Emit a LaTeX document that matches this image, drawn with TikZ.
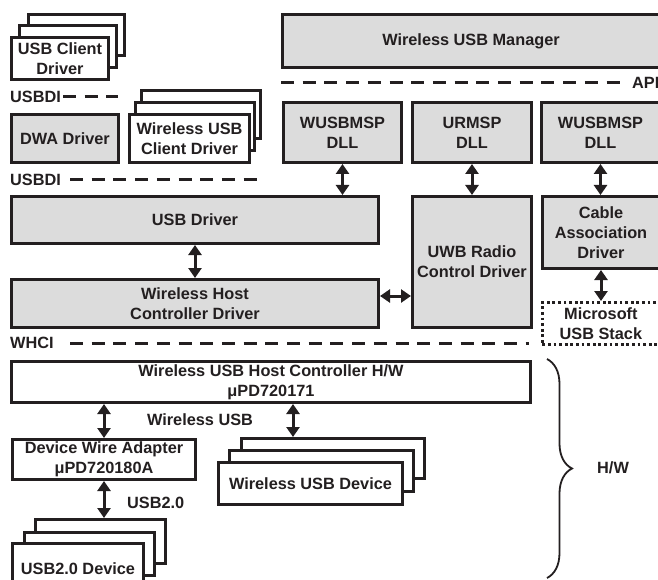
\documentclass[tikz,border=0pt]{standalone}
\usepackage{fontspec}
\setmainfont{Liberation Sans}
\usetikzlibrary{arrows.meta,decorations.pathreplacing,calc}
\definecolor{ink}{HTML}{231F20}
\definecolor{boxgray}{HTML}{DCDCDC}
\newcommand\bx[7]{\node[#6,anchor=north west,minimum width={(#4)-(#2)},minimum height={(#5)-(#3)}] (#1) at (#2,#3) {#7};}
\begin{document}
\begin{tikzpicture}[x=1pt,y=-1pt,
  font=\fontsize{16.3}{20}\selectfont\bfseries,
  base/.style={draw=ink,line width=3pt,inner sep=0pt,align=center,text=ink},
  gbox/.style={base,fill=boxgray},
  wbox/.style={base,fill=white},
  dotbox/.style={base,fill=white,line width=2.8pt,dash pattern=on 2.8pt off 2.8pt},
  dbl/.style={draw=ink,line width=3pt,{Triangle[width=13pt,length=10pt]}-{Triangle[width=13pt,length=10pt]}},
  dashline/.style={draw=ink,line width=3pt,dash pattern=on 13pt off 8.7pt},
  lbl/.style={text=ink,inner sep=0pt}]
\clip (0,0) rectangle (658,580);
\fill[white] (0,0) rectangle (658,580);

% left top stacks
\bx{ucd3}{27}{13}{123}{54}{wbox}{}
\bx{ucd2}{18}{24}{115}{66}{wbox}{}
\bx{ucd}{10}{36}{107}{78}{wbox}{USB Client\\Driver}
\bx{dwa}{10}{113}{117}{161}{gbox}{DWA Driver}
\bx{wcd3}{140}{89}{259}{137}{wbox}{}
\bx{wcd2}{134}{101}{253}{149}{wbox}{}
\bx{wcd}{128}{113}{248}{161}{wbox}{Wireless USB\\Client Driver}

% right top
\bx{mgr}{281}{13}{658}{66}{gbox}{Wireless USB Manager}
\bx{dll1}{282}{101}{400}{161}{gbox}{WUSBMSP\\DLL}
\bx{dll2}{411}{101}{530}{161}{gbox}{URMSP\\DLL}
\bx{dll3}{540}{101}{658}{161}{gbox}{WUSBMSP\\DLL}

% middle
\bx{usbd}{10}{195}{377}{242}{gbox}{USB Driver}
\bx{whcd}{10}{278}{377}{326}{gbox}{Wireless Host\\Controller Driver}
\bx{uwb}{411}{195}{530}{326}{gbox}{UWB Radio\\Control Driver}
\bx{cad}{541}{195}{658}{267}{gbox}{Cable\\Association\\Driver}
\bx{ms}{541}{301}{658}{343}{dotbox}{Microsoft\\USB Stack}

% hardware
\bx{hc}{10}{360}{529}{401}{wbox}{Wireless USB Host Controller H/W\\μPD720171}
\bx{dwad}{11}{438}{194}{478}{wbox}{Device Wire Adapter\\μPD720180A}
\bx{wud3}{240}{437}{423}{477}{wbox}{}
\bx{wud2}{228}{449}{412}{490}{wbox}{}
\bx{wud}{217}{461}{401}{503}{wbox}{Wireless USB Device}
\bx{ud3}{34}{518}{164}{562}{wbox}{}
\bx{ud2}{23}{531}{153}{574}{wbox}{}
\bx{ud}{11}{542}{142}{592}{wbox}{USB2.0 Device}

% interface labels and dashed lines
\node[lbl,anchor=west] (usbdi1) at (10,97) {USBDI};
\draw[dashline] (63,97) -- (118,97);
\node[lbl,anchor=west] (usbdi2) at (10,180) {USBDI};
\draw[dashline] (70,180) -- (258,180);
\node[lbl,anchor=west] (whci) at (10,343) {WHCI};
\draw[dashline] (70,343) -- (529,343);
\node[lbl,anchor=west] (api) at (632,83) {API};
\draw[dashline] (281,83) -- (623,83);

% connectors
\draw[dbl] (dll1.south) -- (dll1.south |- usbd.north);
\draw[dbl] (dll2.south) -- (uwb.north);
\draw[dbl] (dll3.south) -- (dll3.south |- cad.north);
\draw[dbl] (cad.south) -- (cad.south |- ms.north);
\draw[dbl] (usbd.south) -- (whcd.north);
\coordinate (yw) at (0,296);
\draw[dbl] (whcd.east |- yw) -- (uwb.west |- yw);
\draw[dbl] (dwad.north |- hc.south) -- (dwad.north);
\coordinate (xw) at (293,0);
\draw[dbl] (hc.south -| xw) -- (wud3.north -| xw);
\draw[dbl] (dwad.south) -- (dwad.south |- ud3.north);

\node[lbl] (wlbl) at (200,420) {Wireless USB};
\node[lbl,anchor=west] (u2lbl) at (127,503) {USB2.0};

% brace
\draw[ink,line width=1.8pt,decorate,decoration={brace,amplitude=25pt}] (547,359) -- (547,578);
\node[lbl,anchor=west] (hw) at (597,468) {H/W};
\end{tikzpicture}
\end{document}
